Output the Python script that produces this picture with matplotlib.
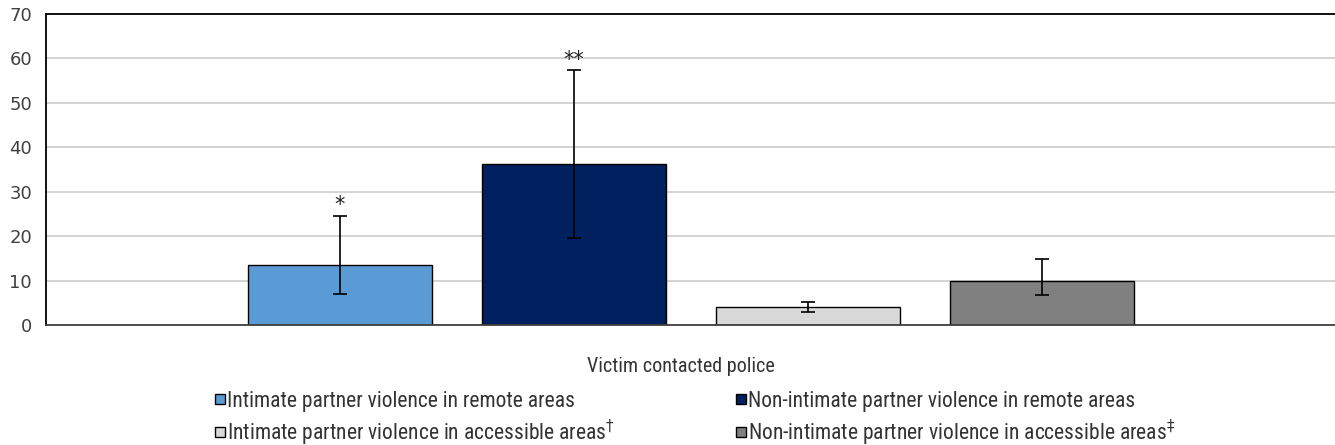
import matplotlib.pyplot as plt
import matplotlib.transforms as mtransforms
from matplotlib.lines import Line2D

# data
category = ['Victim contacted police']
series = [
    'Intimate partner violence in remote areas',
    'Non-intimate partner violence in remote areas',
    r'Intimate partner violence in accessible areas$^{\dagger}$',
    r'Non-intimate partner violence in accessible areas$^{\ddagger}$',
]
values = [13.6, 36.3, 4.0, 10.0]
err_low = [7.0, 19.5, 3.0, 6.7]
err_high = [24.6, 57.4, 5.2, 14.8]
marks = ['*', '**', '', '']
colors = ['#5B9BD5', '#002060', '#D9D9D9', '#808080']

NARROW = ['Roboto Condensed', 'DejaVu Sans']


def main():
    fig = plt.figure(figsize=(13.35, 4.45), dpi=100)
    ax = fig.add_axes([46 / 1335, 1 - 325 / 445, 1290 / 1335, 311 / 445])

    step = 0.1814
    width = 0.1426
    for i, (v, lo, hi, m, c) in enumerate(zip(values, err_low, err_high, marks, colors)):
        x = (i - 1.5) * step
        ax.bar(x, v, width, color=c, edgecolor='black', linewidth=1.0, zorder=2)
        ax.errorbar(x, v, yerr=[[v - lo], [hi - v]], fmt='none', ecolor='black',
                    elinewidth=1.2, capsize=5, capthick=1.2, zorder=3)
        if m:
            ax.text(x, hi + 0.1, m, ha='center', va='bottom', fontsize=15,
                    color='#222222', family='DejaVu Sans')

    ax.set_xlim(-0.5, 0.5)
    ax.set_ylim(0, 70)
    ax.set_yticks(range(0, 71, 10))
    ax.yaxis.grid(True, color='#D0D0D0', linewidth=1.3, zorder=0)
    ax.set_axisbelow(True)
    ax.tick_params(axis='y', length=0, pad=10, labelsize=13, labelcolor='#404040')
    ax.set_xticks([0])
    ax.set_xticklabels(category, fontsize=14.5, color='#333333', family=NARROW)
    ax.tick_params(axis='x', length=0, pad=23)
    shift = mtransforms.ScaledTranslation(-0.1, 0, fig.dpi_scale_trans)
    for lab in ax.get_xticklabels():
        lab.set_transform(lab.get_transform() + shift)
    ax.spines['right'].set_visible(False)
    for s in ['top', 'left']:
        ax.spines[s].set_color('black')
        ax.spines[s].set_linewidth(1.3)
    ax.spines['bottom'].set_color('#404040')
    ax.spines['bottom'].set_linewidth(1.3)

    handles = [Line2D([], [], marker='s', ls='', ms=7, mfc=c, mec='black', mew=1)
               for c in colors]
    cols = [(0, 2), (1, 3)]
    xs = [214.5, 735.5]
    for (a, b), xp in zip(cols, xs):
        fig.legend([handles[a], handles[b]], [series[a], series[b]],
                   loc='upper left', bbox_to_anchor=(xp / 1335, 1 - 391 / 445),
                   frameon=False, handlelength=0.5, handletextpad=0.07,
                   labelspacing=0.25, borderpad=0, borderaxespad=0,
                   prop={'family': NARROW, 'size': 15.5}, labelcolor='#333333')

    fig.savefig('out.png', dpi=100)


if __name__ == '__main__':
    main()
